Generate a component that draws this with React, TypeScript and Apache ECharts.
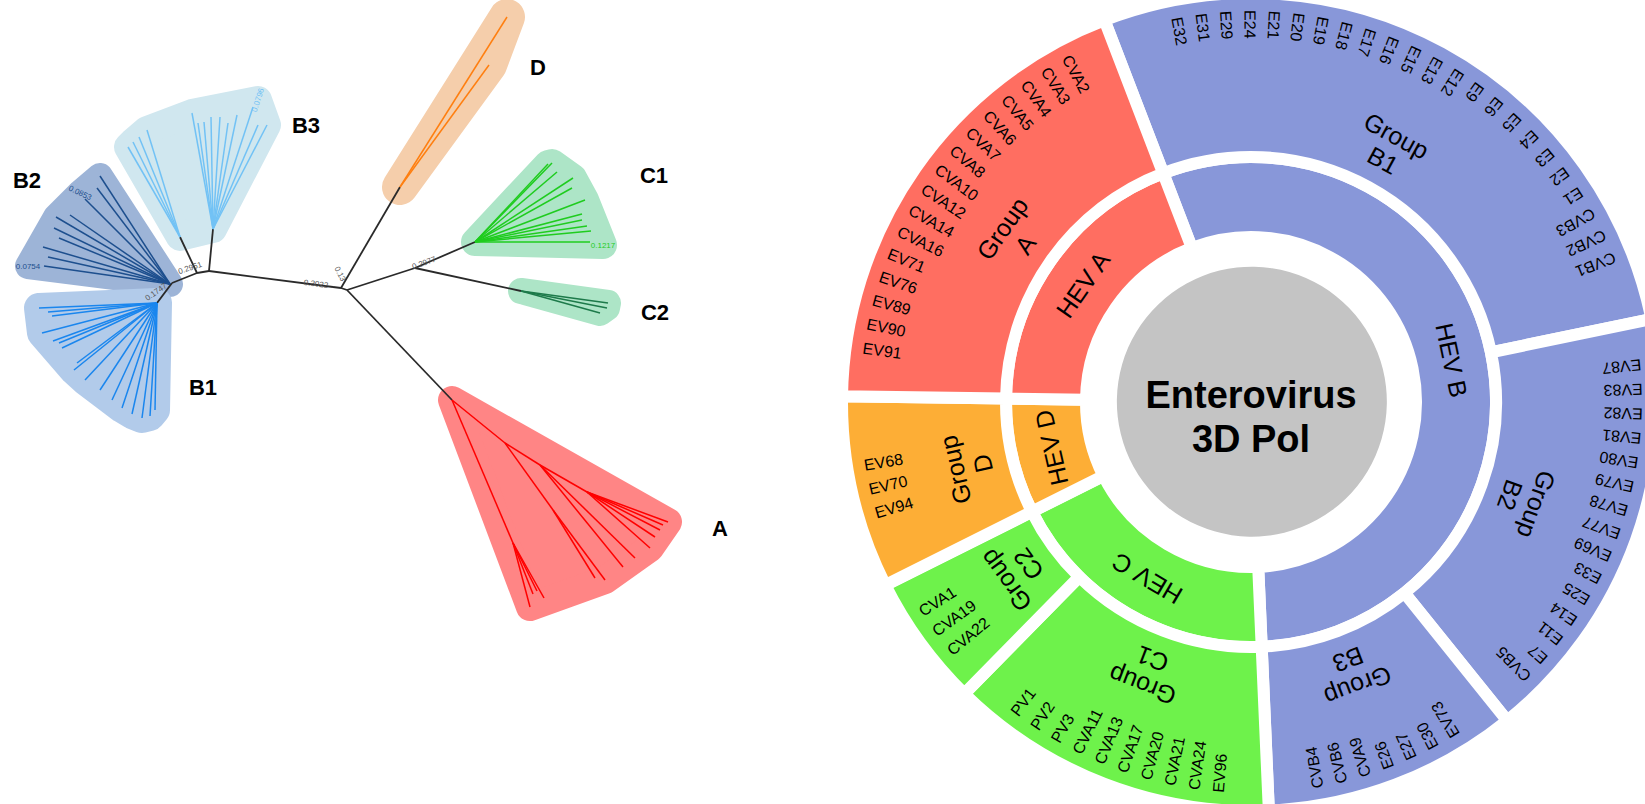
import React, { useEffect, useRef } from "react";
import * as echarts from "echarts";

type Pt = [number, number];

const WIDTH = 1645;
const HEIGHT = 804;
const FONT = '"Liberation Sans", Arial, Helvetica, sans-serif';

/* ================= Phylogenetic tree (left panel) ================= */

// Internal node positions of the unrooted tree layout (x to the right, y downwards)
const treeNodes: Record<string, Pt> = {
  b3Right: [213, 229],
  bJoin: [209, 271],
  bJoinL: [197, 273],
  b3Left: [180, 237],
  b2: [170, 284],
  b12: [172, 283],
  b1: [157, 303],
  root1: [333, 287],
  rootD: [341, 288],
  root2: [347, 290],
  d: [400, 187],
  cJoin: [415, 268],
  c1: [475, 242],
  c2: [521, 291],
  a: [452, 400],
  a1: [513, 543],
  a2: [505, 443],
  a3: [540, 465],
  a4: [553, 510],
  a5: [587, 492],
};

// Black backbone branches
const backboneLinks: [string, string][] = [
  ["b3Right", "bJoin"],
  ["bJoin", "bJoinL"],
  ["bJoinL", "b3Left"],
  ["bJoinL", "b12"],
  ["b12", "b1"],
  ["bJoin", "root1"],
  ["root1", "rootD"],
  ["rootD", "root2"],
  ["rootD", "d"],
  ["root2", "cJoin"],
  ["cJoin", "c1"],
  ["cJoin", "c2"],
  ["root2", "a"],
];

// Terminal branch tips of every clade
const tipsB3a: Pt[] = [[128, 147], [133, 142], [139, 137], [147, 130]];
const tipsB3b: Pt[] = [[192, 113], [198, 123], [204, 122], [211, 117], [220, 117], [228, 123], [237, 115], [253, 107], [258, 125], [267, 125]];
const tipsB2: Pt[] = [[100, 176], [97, 188], [85, 199], [70, 215], [56, 217], [54, 228], [59, 238], [43, 247], [48, 257], [44, 266]];
const tipsB1: Pt[] = [[39, 308], [48, 312], [52, 316], [42, 333], [53, 341], [59, 343], [62, 348], [77, 363], [74, 370], [85, 380], [100, 390], [112, 400], [122, 408], [132, 414], [142, 418], [150, 416], [155, 410]];
const tipsD: Pt[] = [[507, 17], [489, 65]];
const tipsC1: Pt[] = [[552, 163], [548, 164], [557, 172], [573, 178], [572, 188], [585, 200], [582, 214], [582, 220], [587, 226], [591, 231], [590, 242]];
const tipsC2: Pt[] = [[608, 303], [607, 308], [600, 313]];
const tipsA1: Pt[] = [[530, 607], [533, 594], [537, 591], [544, 598]];
const tipsA3: Pt[] = [[623, 567], [635, 558]];
const tipsA4: Pt[] = [[595, 578], [605, 580]];
const tipsA5: Pt[] = [[650, 548], [655, 537], [660, 530], [663, 525], [668, 522]];

type Note = { text: string; at: Pt; rot: number };
type Clade = {
  name: string;
  line: string;
  hull: string;
  pad: number;
  fans: { hub: string; tips: Pt[] }[];
  inner: [string, string][];
  notes: Note[];
  tag: Pt;
};

const clades: Clade[] = [
  {
    name: "B3", line: "#72c2f5", hull: "#d0e7ef", pad: 14,
    fans: [{ hub: "b3Left", tips: tipsB3a }, { hub: "b3Right", tips: tipsB3b }],
    inner: [], notes: [{ text: "0.0796", at: [258, 100], rot: 72 }], tag: [306, 125],
  },
  {
    name: "B2", line: "#1d4f8e", hull: "#9db4d7", pad: 13,
    fans: [{ hub: "b2", tips: tipsB2 }],
    inner: [], notes: [{ text: "0.0754", at: [28, 266], rot: 0 }, { text: "0.0853", at: [80, 193], rot: -25 }], tag: [27, 180],
  },
  {
    name: "B1", line: "#1a86ee", hull: "#b2cbea", pad: 15,
    fans: [{ hub: "b1", tips: tipsB1 }],
    inner: [], notes: [], tag: [203, 387],
  },
  {
    name: "D", line: "#ff7f10", hull: "#f5ceab", pad: 18,
    fans: [{ hub: "d", tips: tipsD }],
    inner: [], notes: [], tag: [538, 67],
  },
  {
    name: "C1", line: "#1fcc1f", hull: "#ade5c7", pad: 14,
    fans: [{ hub: "c1", tips: tipsC1 }],
    inner: [], notes: [{ text: "0.1217", at: [603, 245], rot: 0 }], tag: [654, 175],
  },
  {
    name: "C2", line: "#1d7a4a", hull: "#ade5c7", pad: 13,
    fans: [{ hub: "c2", tips: tipsC2 }],
    inner: [], notes: [], tag: [655, 312],
  },
  {
    name: "A", line: "#ff0000", hull: "#ff8585", pad: 14,
    fans: [{ hub: "a1", tips: tipsA1 }, { hub: "a3", tips: tipsA3 }, { hub: "a4", tips: tipsA4 }, { hub: "a5", tips: tipsA5 }],
    inner: [["a", "a1"], ["a", "a2"], ["a2", "a3"], ["a2", "a4"], ["a3", "a5"]],
    notes: [], tag: [720, 528],
  },
];

// Branch-length annotations on the backbone
const backboneNotes: Note[] = [
  { text: "0.3022", at: [316, 284], rot: -7 },
  { text: "0.2951", at: [190, 268], rot: 18 },
  { text: "0.1747", at: [156, 292], rot: 35 },
  { text: "0.13", at: [340, 274], rot: -62 },
  { text: "0.2977", at: [424, 263], rot: 20 },
];

/* ================= Sunburst (right panel) ================= */

const rootLabel = "Enterovirus\n3D Pol";
const speciesNames = ["HEV B", "HEV C", "HEV D", "HEV A"];
const speciesColors = ["#8897d9", "#6ef24b", "#fdae36", "#ff6e61"];
const groupNames = ["B1", "B2", "B3", "C1", "C2", "D", "A"];
const groupSpecies = [0, 0, 0, 1, 1, 2, 3];
// arc share of each group, in degrees
const groupArc = [99.3, 62.9, 36.3, 47.0, 18.9, 27.4, 68.2];

// members listed clockwise
const membersB1 = ["E32", "E31", "E29", "E24", "E21", "E20", "E19", "E18", "E17", "E16", "E15", "E13", "E12", "E9", "E6", "E5", "E4", "E3", "E2", "E1", "CVB3", "CVB2", "CVB1"];
const membersB2 = ["EV87", "EV83", "EV82", "EV81", "EV80", "EV79", "EV78", "EV77", "EV69", "E33", "E25", "E14", "E11", "E7", "CVB5"];
const membersB3 = ["EV73", "E30", "E27", "E26", "CVA9", "CVB6", "CVB4"];
const membersC1 = ["EV96", "CVA24", "CVA21", "CVA20", "CVA17", "CVA13", "CVA11", "PV3", "PV2", "PV1"];
const membersC2 = ["CVA22", "CVA19", "CVA1"];
const membersD = ["EV94", "EV70", "EV68"];
const membersA = ["EV91", "EV90", "EV89", "EV76", "EV71", "CVA16", "CVA14", "CVA12", "CVA10", "CVA8", "CVA7", "CVA6", "CVA5", "CVA4", "CVA3", "CVA2"];
const groupMembers = [membersB1, membersB2, membersB3, membersC1, membersC2, membersD, membersA];

const CX = 1251;
const CY = 402;
const OUTER = 402;
const START_ANGLE = 111;
const LEAF_STEP = 3.6;
const LEAF_R = 0.975;
const GROUP_R = 0.72;
const CENTER_TEXT_DY = 15;

const norm = (a: number) => ((a % 360) + 360) % 360;

function midAngles(arcs: number[]): number[] {
  let acc = 0;
  return arcs.map((a) => {
    const m = START_ANGLE - acc - a / 2;
    acc += a;
    return m;
  });
}

const speciesArc = speciesNames.map((_, s) =>
  groupArc.reduce((sum, v, g) => sum + (groupSpecies[g] === s ? v : 0), 0)
);
const speciesMid = midAngles(speciesArc);
const groupMid = midAngles(groupArc);

type RingLabel = {
  text: string;
  r: number;
  angle: number;
  rotation: number;
  align: "left" | "center";
  size: number;
  lineHeight: number;
  bold: boolean;
  dy: number;
};

function buildRingLabels(): RingLabel[] {
  const out: RingLabel[] = [
    { text: rootLabel, r: 0, angle: 0, rotation: 0, align: "center", size: 38, lineHeight: 44, bold: true, dy: CENTER_TEXT_DY },
  ];
  groupNames.forEach((g, gi) => {
    const mid = groupMid[gi];
    out.push({ text: "Group\n" + g, r: GROUP_R, angle: norm(mid), rotation: mid - 90, align: "center", size: 25, lineHeight: 28, bold: false, dy: 0 });
    const members = groupMembers[gi];
    const n = members.length;
    members.forEach((m, i) => {
      const a = mid + ((n - 1) / 2 - i) * LEAF_STEP;
      out.push({ text: m, r: LEAF_R, angle: norm(a), rotation: a + 180, align: "left", size: 16, lineHeight: 18, bold: false, dy: 0 });
    });
  });
  return out;
}

function convexHull(points: number[][]): number[][] {
  const pts = points.slice().sort((p, q) => p[0] - q[0] || p[1] - q[1]);
  if (pts.length < 3) return pts;
  const cross = (o: number[], a: number[], b: number[]) =>
    (a[0] - o[0]) * (b[1] - o[1]) - (a[1] - o[1]) * (b[0] - o[0]);
  const lower: number[][] = [];
  for (const p of pts) {
    while (lower.length >= 2 && cross(lower[lower.length - 2], lower[lower.length - 1], p) <= 0) lower.pop();
    lower.push(p);
  }
  const upper: number[][] = [];
  for (let i = pts.length - 1; i >= 0; i--) {
    const p = pts[i];
    while (upper.length >= 2 && cross(upper[upper.length - 2], upper[upper.length - 1], p) <= 0) upper.pop();
    upper.push(p);
  }
  upper.pop();
  lower.pop();
  return lower.concat(upper);
}

function buildOption() {
  // tree branches
  const edges: any[] = [];
  backboneLinks.forEach(([p, q]) =>
    edges.push({ coords: [treeNodes[p], treeNodes[q]], lineStyle: { color: "#2a2a2a", width: 1.8 } })
  );
  clades.forEach((c) => {
    c.inner.forEach(([p, q]) =>
      edges.push({ coords: [treeNodes[p], treeNodes[q]], lineStyle: { color: c.line, width: 1.5 } })
    );
    c.fans.forEach((f) =>
      f.tips.forEach((t) =>
        edges.push({ coords: [treeNodes[f.hub], t], lineStyle: { color: c.line, width: 1.5 } })
      )
    );
  });

  // texts drawn on the tree
  type TreeText = { text: string; at: Pt; rot: number; size: number; bold: boolean; color: string };
  const treeTexts: TreeText[] = [];
  clades.forEach((c) => {
    treeTexts.push({ text: c.name, at: c.tag, rot: 0, size: 22, bold: true, color: "#000" });
    c.notes.forEach((n) => treeTexts.push({ text: n.text, at: n.at, rot: n.rot, size: 8, bold: false, color: c.line }));
  });
  backboneNotes.forEach((n) => treeTexts.push({ text: n.text, at: n.at, rot: n.rot, size: 8, bold: false, color: "#555" }));

  // sunburst hierarchy
  const sunData = [
    {
      name: rootLabel,
      itemStyle: { color: "#c4c4c4" },
      children: speciesNames.map((sp, s) => ({
        name: sp,
        itemStyle: { color: speciesColors[s] },
        label: { rotate: norm(speciesMid[s] - 90) },
        children: groupNames
          .map((g, gi) => ({ g, gi }))
          .filter((o) => groupSpecies[o.gi] === s)
          .map((o) => ({
            name: "Group " + o.g,
            value: groupArc[o.gi],
            itemStyle: { color: speciesColors[s] },
          })),
      })),
    },
  ];

  const ringLabels = buildRingLabels();

  return {
    animation: false,
    backgroundColor: "#ffffff",
    textStyle: { fontFamily: FONT },
    grid: { left: 0, top: 0, width: 800, height: HEIGHT, containLabel: false },
    xAxis: { type: "value", min: 0, max: 800, show: false },
    yAxis: { type: "value", min: 0, max: HEIGHT, inverse: true, show: false },
    polar: { center: [CX, CY], radius: [0, OUTER] },
    angleAxis: {
      type: "value", min: 0, max: 360, startAngle: 0, clockwise: false, show: false,
      axisLine: { show: false }, axisTick: { show: false }, axisLabel: { show: false }, splitLine: { show: false },
    },
    radiusAxis: {
      type: "value", min: 0, max: 1, show: false,
      axisLine: { show: false }, axisTick: { show: false }, axisLabel: { show: false }, splitLine: { show: false },
    },
    series: [
      {
        type: "custom",
        name: "clade hulls",
        coordinateSystem: "cartesian2d",
        silent: true,
        z: 1,
        data: clades.map((c) => treeNodes[c.fans[0].hub]),
        renderItem: (params: any, api: any) => {
          const c = clades[params.dataIndex];
          const pts: Pt[] = [];
          c.fans.forEach((f) => {
            pts.push(treeNodes[f.hub]);
            f.tips.forEach((t) => pts.push(t));
          });
          c.inner.forEach(([p, q]) => pts.push(treeNodes[p], treeNodes[q]));
          c.notes.forEach((n) => pts.push(n.at));
          const hull = convexHull(pts.map((p) => api.coord(p)));
          // a round-joined stroke of the same colour rounds and widens the hull
          return {
            type: "polygon",
            shape: { points: hull },
            style: { fill: c.hull, stroke: c.hull, lineWidth: c.pad * 2, lineJoin: "round" },
          };
        },
      },
      {
        type: "lines",
        name: "branches",
        coordinateSystem: "cartesian2d",
        silent: true,
        z: 2,
        lineStyle: { opacity: 1, curveness: 0 },
        data: edges,
      },
      {
        type: "custom",
        name: "tree texts",
        coordinateSystem: "cartesian2d",
        silent: true,
        z: 3,
        data: treeTexts.map((t) => t.at),
        renderItem: (params: any, api: any) => {
          const t = treeTexts[params.dataIndex];
          const p = api.coord(t.at);
          return {
            type: "text",
            x: p[0],
            y: p[1],
            rotation: (t.rot * Math.PI) / 180,
            style: {
              text: t.text,
              fill: t.color,
              fontSize: t.size,
              fontWeight: t.bold ? "bold" : "normal",
              fontFamily: FONT,
              align: "center",
              verticalAlign: "middle",
            },
          };
        },
      },
      {
        type: "sunburst",
        center: [CX, CY],
        radius: [0, OUTER],
        startAngle: START_ANGLE,
        sort: null,
        nodeClick: false,
        silent: true,
        emphasis: { disabled: true },
        z: 4,
        data: sunData,
        levels: [
          {},
          {
            r0: 0,
            r: 135,
            itemStyle: { borderWidth: 0 },
            label: { show: false },
          },
          {
            r0: 165,
            r: 245,
            itemStyle: { borderWidth: 12, borderColor: "#ffffff" },
            label: { fontSize: 25, color: "#000", fontFamily: FONT, textBorderWidth: 0 },
          },
          {
            r0: 245,
            r: 409,
            itemStyle: { borderWidth: 12, borderColor: "#ffffff" },
            label: { show: false },
          },
        ],
      },
      {
        type: "custom",
        name: "ring labels",
        coordinateSystem: "polar",
        silent: true,
        z: 6,
        data: ringLabels.map((l) => [l.r, l.angle]),
        renderItem: (params: any, api: any) => {
          const l = ringLabels[params.dataIndex];
          const p = api.coord([api.value(0), api.value(1)]);
          return {
            type: "text",
            x: p[0],
            y: p[1] + l.dy,
            rotation: (l.rotation * Math.PI) / 180,
            style: {
              text: l.text,
              fill: "#000",
              fontSize: l.size,
              fontWeight: l.bold ? "bold" : "normal",
              fontFamily: FONT,
              lineHeight: l.lineHeight,
              align: l.align,
              verticalAlign: "middle",
            },
          };
        },
      },
    ],
  };
}

export default function App() {
  const ref = useRef<HTMLDivElement>(null);
  useEffect(() => {
    if (!ref.current) return;
    const chart = echarts.init(ref.current, undefined, { renderer: "svg" });
    chart.setOption(buildOption() as any);
    return () => chart.dispose();
  }, []);
  return (
    <div
      ref={ref}
      style={{ position: "fixed", left: 0, top: 0, width: WIDTH, height: HEIGHT, background: "#fff" }}
    />
  );
}
